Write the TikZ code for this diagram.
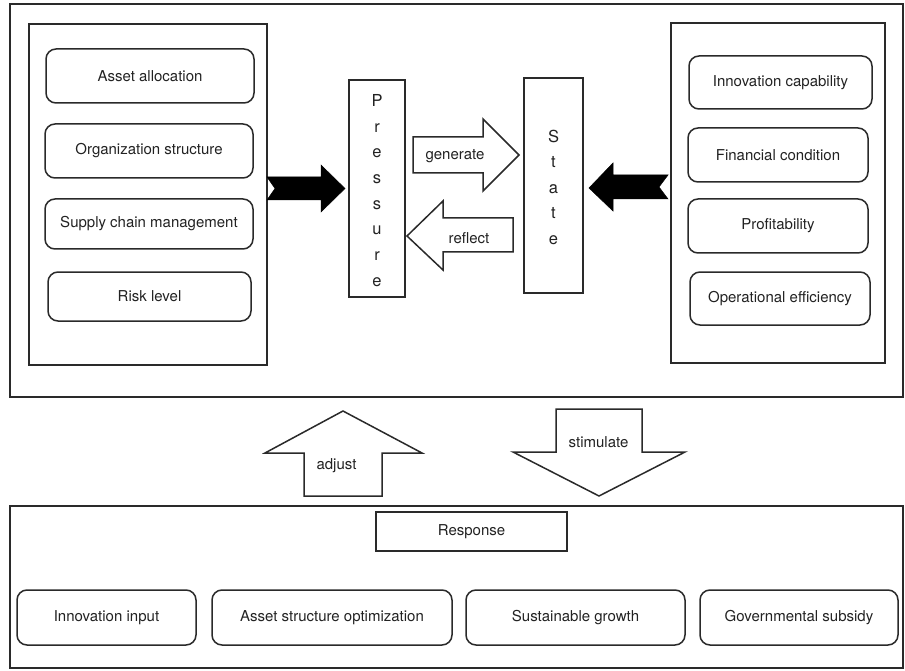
\documentclass[tikz,border=0pt]{standalone}
\usepackage{fontspec}
\setmainfont{TeX Gyre Heros}
\definecolor{linec}{HTML}{2A2A2A}
\definecolor{txtc}{HTML}{222222}
\begin{document}
\begin{tikzpicture}[x=1pt,y=-1pt,
  every node/.style={inner sep=0pt, text=txtc, font=\fontsize{15}{17}\selectfont},
  panel/.style={draw=linec, line width=1.8pt},
  rbox/.style={draw=linec, line width=1.5pt, rounded corners=10pt},
  pbox/.style={draw=linec, line width=1.6pt},
  hollow/.style={draw=linec, line width=1.5pt, fill=white, line join=miter},
  solidarrow/.style={fill=black, draw=black, line width=0.5pt, line join=miter},
  letters/.style={align=center, font=\fontsize{16.5}{25.7}\selectfont}
]
\useasboundingbox (0,0) rectangle (905,671);

% outer frames
\node[panel, minimum width=893pt, minimum height=393pt] (top) at (456.5,200.5) {};
\node[panel, minimum width=893pt, minimum height=162pt] (bottom) at (456.5,587) {};

% left panel
\node[panel, minimum width=238pt, minimum height=341pt] (left) at (148,194.5) {};
\node[rbox, minimum width=208pt, minimum height=54pt] (asset) at (150,76) {Asset allocation};
\node[rbox, minimum width=208pt, minimum height=54pt] (org) at (149,151) {Organization structure};
\node[rbox, minimum width=208pt, minimum height=50pt] (supply) at (149,224) {Supply chain management};
\node[rbox, minimum width=203pt, minimum height=49pt] (risk) at (149.5,296.5) {Risk level};

% right panel
\node[panel, minimum width=214pt, minimum height=340pt] (right) at (778,193) {};
\node[rbox, minimum width=183pt, minimum height=53pt] (innov) at (780.5,82.5) {Innovation capability};
\node[rbox, minimum width=180pt, minimum height=54pt] (fin) at (778,155) {Financial condition};
\node[rbox, minimum width=180pt, minimum height=54pt] (prof) at (778,226) {Profitability};
\node[rbox, minimum width=180pt, minimum height=53pt] (oper) at (780,298.5) {Operational efficiency};

% pressure / state
\node[pbox, minimum width=56pt, minimum height=217pt] (pressure) at (377,188.5) {};
\node[letters] (ptext) at (377,190.5) {P\\r\\e\\s\\s\\u\\r\\e};
\node[pbox, minimum width=59pt, minimum height=215pt] (state) at (553.5,185.5) {};
\node[letters, font=\fontsize{16.5}{25.5}\selectfont] (stext) at (553.5,187.3) {S\\t\\a\\t\\e};

% black arrows
\fill[solidarrow] (267,177) -- (321,177) -- (321,165) -- (345,188.5) -- (321,212)
   -- (321,200) -- (267,200) -- (275,188.5) -- cycle;
\fill[solidarrow] (668,175) -- (613,175) -- (613,163) -- (589,188) -- (613,211)
   -- (613,199) -- (668,199) -- (659,187) -- cycle;

% generate / reflect
\filldraw[hollow] (413,137) -- (483,137) -- (483,119) -- (519,155) -- (483,191)
   -- (483,173) -- (413,173) -- cycle;
\node (gen) at (455,156.5) {generate};
\filldraw[hollow] (513,218) -- (443,218) -- (443,201) -- (407,236) -- (443,270)
   -- (443,252) -- (513,252) -- cycle;
\node (refl) at (469,238) {reflect};

% adjust / stimulate
\filldraw[hollow] (304,496) -- (304,453) -- (265,453) -- (343,411) -- (422,453)
   -- (382,453) -- (382,496) -- cycle;
\node (adj) at (336.5,466) {adjust};
\filldraw[hollow] (556,409) -- (642,409) -- (642,452) -- (685,452) -- (599,496)
   -- (513,452) -- (556,452) -- cycle;
\node (stim) at (598.5,442) {stimulate};

% response
\node[pbox, minimum width=191pt, minimum height=39pt] (resp) at (471.5,531.5) {Response};
\node[rbox, minimum width=179pt, minimum height=55pt] (ininput) at (106.5,617.5) {Innovation input};
\node[rbox, minimum width=240pt, minimum height=55pt] (asopt) at (332,617.5) {Asset structure optimization};
\node[rbox, minimum width=219pt, minimum height=55pt] (sust) at (575.5,617.5) {Sustainable growth};
\node[rbox, minimum width=198pt, minimum height=55pt] (gov) at (799,617.5) {Governmental subsidy};
\end{tikzpicture}
\end{document}
